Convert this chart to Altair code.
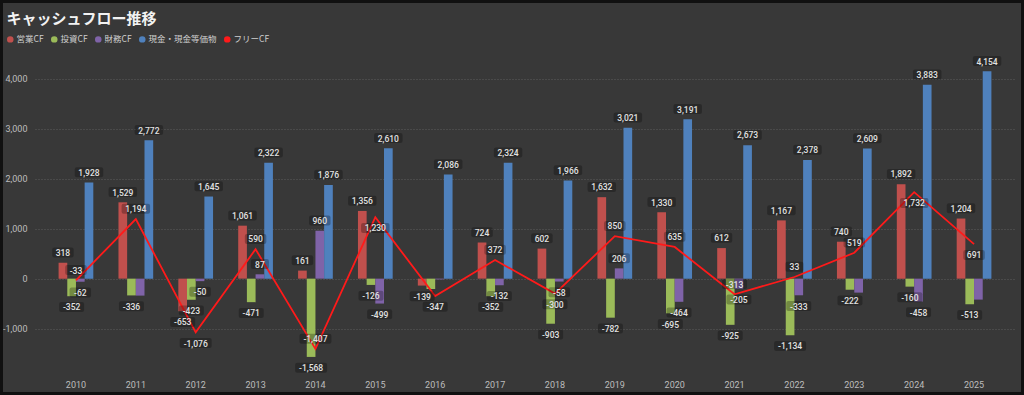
import altair as alt
import pandas as pd

years = [str(y) for y in range(2010, 2026)]
operating = [318, 1529, -653, 1061, 161, 1356, -139, 724, 602, 1632, 1330, 612, 1167, 740, 1892, 1204]
investing = [-352, -336, -423, -471, -1568, -126, -208, -352, -903, -782, -695, -925, -1134, -222, -160, -513]
financing = [-62, -340, -50, 87, 960, -499, -15, -132, -58, 206, -464, -205, -333, -280, -458, -420]
cash = [1928, 2772, 1645, 2322, 1876, 2610, 2086, 2324, 1966, 3021, 3191, 2673, 2378, 2609, 3883, 4154]
free_cf = [-33, 1194, -1076, 590, -1407, 1230, -347, 372, -300, 850, 635, -313, 33, 519, 1732, 691]

series = ["営業CF", "投資CF", "財務CF", "現金・現金等価物"]
free_name = "フリーCF"
colors = ["#c0504d", "#9bbb59", "#7f63a8", "#4f81bd", "#ff1a1a"]
hidden_labels = [("2011", "財務CF"), ("2016", "投資CF"), ("2016", "財務CF"),
                 ("2023", "財務CF"), ("2025", "財務CF")]
free_label_below = ["2012", "2015", "2016", "2018", "2024", "2025"]

rows = []
for i, y in enumerate(years):
    for s, arr in zip(series, [operating, investing, financing, cash]):
        rows.append({"year": y, "series": s, "value": arr[i],
                     "show": (y, s) not in hidden_labels})
bars_df = pd.DataFrame(rows)
free_df = pd.DataFrame({"year": years, "value": free_cf,
                        "below": [y in free_label_below for y in years]})
bars_df["below"] = bars_df["value"] < 0

FONT = "Noto Sans CJK JP"
NUMFONT = "Roboto"

xscale = alt.Scale(domain=years, paddingInner=0.42, paddingOuter=0.394)
yscale = alt.Scale(domain=[-1850, 4500], nice=False, zero=False)
offscale = alt.Scale(domain=series, paddingInner=0, paddingOuter=0)

X = alt.X("year:N", scale=xscale, sort=years,
          axis=alt.Axis(title=None, labelAngle=0, ticks=False, domain=False, grid=False,
                        labelColor="#bdbdbd", labelFontSize=9, labelFont=NUMFONT,
                        labelPadding=9))
Y_AXIS = alt.Axis(title=None, values=[-1000, 0, 1000, 2000, 3000, 4000],
                  labelExpr="replace(format(datum.value, ',d'), '\u2212', '-')",
                  ticks=False, domain=False, grid=True, gridColor="#5c5c5c",
                  gridDash=[1, 2], gridWidth=1, labelColor="#bdbdbd", labelFontSize=9,
                  labelFont=NUMFONT, labelPadding=8)

base = alt.Chart(bars_df)

bars = base.mark_bar().encode(
    x=X,
    xOffset=alt.XOffset("series:N", scale=offscale, sort=series),
    y=alt.Y("value:Q", scale=yscale, axis=Y_AXIS),
    color=alt.Color("series:N",
                    scale=alt.Scale(domain=series + [free_name], range=colors),
                    legend=alt.Legend(orient="none", legendX=-29, legendY=-19,
                                      direction="horizontal", title=None,
                                      symbolType="circle", symbolSize=42,
                                      symbolStrokeWidth=0, labelFont=FONT,
                                      labelFontSize=8.5, labelColor="#cfcfcf",
                                      labelOffset=2, columnPadding=6, padding=0)),
)

line = alt.Chart(free_df).mark_line(color="#ff1a1a", strokeWidth=1.8).encode(
    x=alt.X("year:N", scale=xscale, sort=years),
    y=alt.Y("value:Q", scale=yscale),
)


def label_layers(chart, with_offset):
    c = chart.transform_calculate(
        lab="replace(format(datum.value, ',d'), '\u2212', '-')",
        ylab="datum.below ? datum.value - 215 : datum.value + 205",
    ).transform_calculate(
        w="length(datum.lab) * 3.5 + 11",
    ).transform_calculate(
        path="'M' + (-datum.w/2 + 2) + ',-5H' + (datum.w/2 - 2) + 'Q' + (datum.w/2) + ',-5,' + (datum.w/2) + ',-3V3Q' + (datum.w/2) + ',5,' + (datum.w/2 - 2) + ',5H' + (-datum.w/2 + 2) + 'Q' + (-datum.w/2) + ',5,' + (-datum.w/2) + ',3V-3Q' + (-datum.w/2) + ',-5,' + (-datum.w/2 + 2) + ',-5Z'"
    )
    enc = dict(x=alt.X("year:N", scale=xscale, sort=years),
               y=alt.Y("ylab:Q", scale=yscale))
    if with_offset:
        enc["xOffset"] = alt.XOffset("series:N", scale=offscale, sort=series)
    box = c.mark_point(filled=True, size=4, color="#000000", opacity=0.26,
                       strokeWidth=0).encode(
        shape=alt.Shape("path:N", scale=None, legend=None), **enc)
    txt = c.mark_text(fontSize=8.5, font=NUMFONT, fontWeight=500, color="#e2e2e2",
                      baseline="middle", align="center", dy=0.5).encode(
        text="lab:N", **enc)
    return box, txt


bar_box, bar_txt = label_layers(base.transform_filter("datum.show"), True)
free_box, free_txt = label_layers(alt.Chart(free_df), False)

chart = alt.layer(bars, line, bar_box, free_box, bar_txt, free_txt).properties(
    width=980, height=317,
    background="#383838",
    padding={"left": 32, "top": 51, "right": 6, "bottom": 21},
    autosize=alt.AutoSizeParams(type="none"),
    title=alt.TitleParams("キャッシュフロー推移", anchor="start", font=FONT,
                          fontSize=15, fontWeight="bold", color="#f2f2f2",
                          dx=4, dy=17, offset=13, baseline="alphabetic"),
).configure_view(stroke=None)

chart.save("out.html", embed_options={
    "renderer": "svg", "actions": False,
    "defaultStyle": "body{margin:3px !important;background:#101010;}",
})
